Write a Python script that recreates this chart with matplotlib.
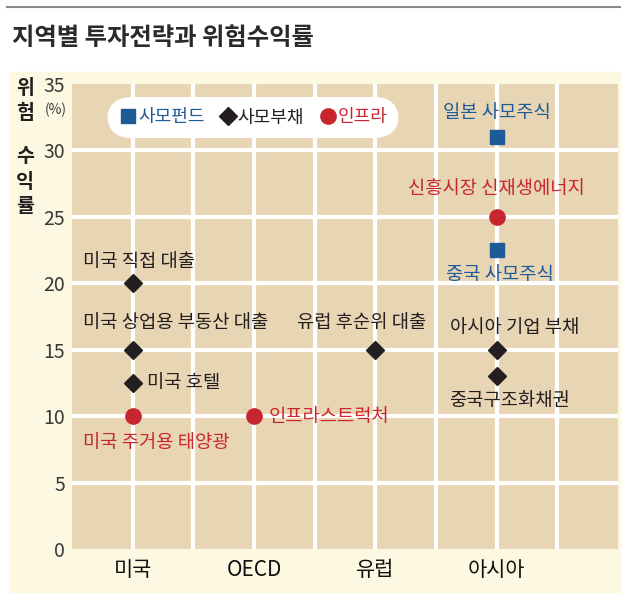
import numpy as np
import matplotlib.pyplot as plt
from matplotlib.patches import Rectangle
from matplotlib.lines import Line2D

plt.rcParams['font.family'] = ['Noto Sans CJK KR', 'DejaVu Sans']

# data
regions = ['미국', 'OECD', '유럽', '아시아']

pe_region = ['아시아', '아시아']
pe_value = [31, 22.5]
pe_label = ['일본 사모주식', '중국 사모주식']

debt_region = ['미국', '미국', '미국', '유럽', '아시아', '아시아']
debt_value = [20, 15, 12.5, 15, 15, 13]
debt_label = ['미국 직접 대출', '미국 상업용 부동산 대출', '미국 호텔',
              '유럽 후순위 대출', '아시아 기업 부채', '중국구조화채권']

infra_region = ['미국', 'OECD', '아시아']
infra_value = [10, 10, 25]
infra_label = ['미국 주거용 태양광', '인프라스트럭처', '신흥시장 신재생에너지']

yticks = [0, 5, 10, 15, 20, 25, 30, 35]

# colours
BLUE = '#1d5a98'
RED = '#c8262e'
DARK = '#231f20'

fig = plt.figure(figsize=(6.3, 6.05), dpi=100)
W, H = 630, 605

# cream panel and top rule
fig.patches.append(Rectangle((10 / W, 1 - 592 / H), 610 / W, 520 / H,
                             transform=fig.transFigure, color='#fdf8e2', zorder=-5))
fig.add_artist(Line2D([7 / W, 620 / W], [1 - 7 / H, 1 - 7 / H],
                      transform=fig.transFigure, color='#8a8a8a', lw=1.5))
fig.text(12 / W, 1 - 38 / H, '지역별 투자전략과 위험수익률', fontsize=17.5, fontweight='bold',
         color='#2a2a2a', va='center', ha='left')

ax = fig.add_axes([72 / W, 1 - 549 / H, 546 / W, 465 / H])
ax.set_facecolor('#e8d5b3')
for s in ax.spines.values():
    s.set_visible(False)

xpos = {r: i for i, r in enumerate(regions)}
ax.set_xlim(-0.5, 4.0)
ax.set_ylim(0, 35)

for gx in np.arange(0, 4.0, 0.5):
    ax.axvline(gx, color='white', lw=3, zorder=1)
for gy in yticks[1:-1]:
    ax.axhline(gy, color='white', lw=3, zorder=1)

ax.set_xticks(range(len(regions)))
ax.set_xticklabels(regions, fontsize=15, color='#111111')
ax.set_yticks(yticks)
ax.set_yticklabels([str(t) for t in yticks], fontsize=14, color='#3a3a3a')
ax.tick_params(length=0, pad=5)
ax.tick_params(axis='x', pad=7)

pe_x = [xpos[r] for r in pe_region]
debt_x = [xpos[r] for r in debt_region]
infra_x = [xpos[r] for r in infra_region]

ax.plot(pe_x, pe_value, 's', color=BLUE, ms=9.4, ls='none', zorder=3, label='사모펀드')
ax.plot(debt_x, debt_value, 'D', color=DARK, ms=9, ls='none', zorder=3, label='사모부채')
ax.plot(infra_x, infra_value, 'o', color=RED, ms=11, ls='none', zorder=3, label='인프라')

# label offsets in pixels: (dx, dy, ha)
pe_off = [(0, 25, 'center'), (3, -24, 'center')]
debt_off = [(-50, 22, 'left'), (-50, 27, 'left'), (14, 0, 'left'),
            (-14, 27, 'center'), (18, 22, 'center'), (13, -24, 'center')]
infra_off = [(-50, -26, 'left'), (15, 0, 'left'), (0, 28, 'center')]

def put_labels(xs, ys, labels, offs, color):
    for x, y, t, (dx, dy, ha) in zip(xs, ys, labels, offs):
        ax.annotate(t, (x, y), xytext=(dx * 0.72, dy * 0.72), textcoords='offset points',
                    ha=ha, va='center', fontsize=13.5, color=color, zorder=4)

put_labels(pe_x, pe_value, pe_label, pe_off, BLUE)
put_labels(debt_x, debt_value, debt_label, debt_off, DARK)
put_labels(infra_x, infra_value, infra_label, infra_off, RED)

leg = ax.legend(loc='center', bbox_to_anchor=(0.332, 0.928), ncol=3, fontsize=13,
                frameon=True, handletextpad=0.05, columnspacing=0.8, handlelength=1.0,
                borderpad=0.45, fancybox=True)
leg.get_frame().set_boxstyle('round,pad=0.2,rounding_size=1.4')
leg.get_frame().set_edgecolor('none')
leg.get_frame().set_facecolor('white')
leg.get_frame().set_alpha(1)
for t, c in zip(leg.get_texts(), [BLUE, DARK, RED]):
    t.set_color(c)

# y axis title and unit
fig.text(25 / W, 1 - 101 / H, '위\n험', fontsize=14, fontweight='bold', color=DARK,
         ha='center', va='center', linespacing=1.4)
fig.text(25 / W, 1 - 182 / H, '수\n익\n률', fontsize=14, fontweight='bold', color=DARK,
         ha='center', va='center', linespacing=1.4)
fig.text(56 / W, 1 - 110 / H, '(%)', fontsize=10, color='#3a3a3a', ha='center', va='center')

fig.savefig('out.png', dpi=100)
